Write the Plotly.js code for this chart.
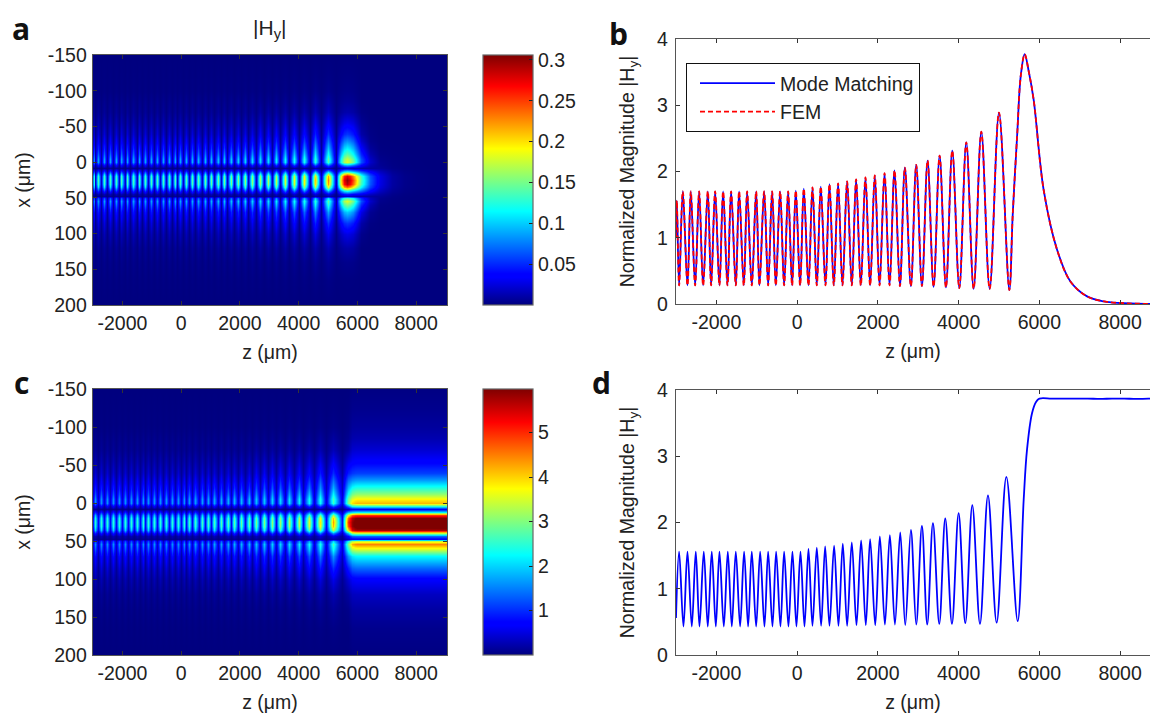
<!DOCTYPE html>
<html>
<head>
<meta charset="utf-8">
<script src="https://cdn.plot.ly/plotly-3.0.1.min.js"></script>
<style>html,body{margin:0;padding:0;background:#fff}#chart{width:1150px;height:713px}</style>
</head>
<body>
<div id="chart"></div>
<script>
// Panel b: |Hy| along the guide, read at peaks, troughs and the decay tail
const bZ = [-3000,-2980,-2923,-2832,-2716,-2634,-2526,-2427,-2328,-2213,-2130,-2031,-1924,-1833,-1725,-1635,-1519,-1437,-1321,-1238,-1123,-1015,-933,-817,-718,-619,-528,-421,-322,-223,-124,-33,74,165,281,380,487,586,702,801,908,1015,1123,1238,1354,1461,1577,1692,1808,1924,2041,2165,2289,2413,2546,2669,2818,2950,3091,3231,3380,3529,3686,3843,4017,4190,4372,4562,4769,5000,5256,5340,5450,5540,5636,5740,5859,6107,6438,6769,7182,7595,8000,8400,9100];
const bH = [1.0,1.56,0.28,1.70,0.28,1.70,0.28,1.70,0.28,1.70,0.28,1.70,0.28,1.70,0.28,1.70,0.28,1.70,0.28,1.70,0.28,1.70,0.28,1.70,0.28,1.70,0.28,1.70,0.28,1.70,0.28,1.71,0.28,1.74,0.28,1.76,0.28,1.77,0.28,1.81,0.28,1.82,0.28,1.85,0.28,1.88,0.28,1.91,0.28,1.94,0.28,1.975,0.28,2.015,0.27,2.06,0.27,2.10,0.27,2.165,0.26,2.24,0.25,2.315,0.24,2.44,0.23,2.60,0.23,2.89,0.21,1.35,2.55,3.45,3.77,3.50,3.08,1.72,0.82,0.34,0.115,0.04,0.015,0.005,0];

// Panel d: |Hy| with the flat plateau after the transition
const dZ = [-3000,-2923,-2815,-2716,-2609,-2510,-2419,-2312,-2213,-2114,-2014,-1924,-1816,-1717,-1618,-1519,-1412,-1313,-1214,-1123,-1015,-916,-809,-718,-611,-520,-413,-322,-215,-116,-17,83,182,281,380,487,594,694,801,916,1024,1131,1238,1354,1470,1585,1701,1808,1934,2049,2174,2297,2422,2554,2678,2818,2950,3091,3223,3364,3521,3669,3835,4000,4165,4339,4529,4727,4942,5182,5463,5611,5694,5818,5917,6000,6300,6600,6900,7200,7500,7800,8100,8400,8700,9100];
const dH = [0.56,1.56,0.43,1.56,0.43,1.56,0.43,1.56,0.43,1.56,0.43,1.56,0.43,1.56,0.43,1.56,0.43,1.56,0.43,1.56,0.43,1.56,0.43,1.56,0.43,1.56,0.43,1.56,0.43,1.56,0.43,1.56,0.43,1.60,0.44,1.62,0.44,1.64,0.44,1.65,0.44,1.68,0.44,1.70,0.45,1.73,0.45,1.75,0.45,1.79,0.46,1.81,0.46,1.85,0.45,1.89,0.46,1.95,0.46,1.99,0.47,2.06,0.47,2.14,0.48,2.26,0.47,2.41,0.49,2.69,0.51,2.34,3.10,3.65,3.82,3.87,3.87,3.87,3.87,3.87,3.865,3.87,3.87,3.865,3.87,3.87];

// Transverse profile samples (relative to the centre of the guide)
const xRows = [-150,-125,-100,-85,-70,-55,-40,-30,-20,-12,-5,0,4,8,12,16,20,25,30,35,40,44,47,50,54,60,70,85,100,120,140,165,200];
const profEarly = [0,0.005,0.01,0.03,0.05,0.1,0.17,0.25,0.37,0.5,0.64,0.64,0.3,0.05,0.38,0.74,0.94,1,0.96,0.78,0.38,0.12,0.05,0.47,0.64,0.52,0.32,0.19,0.11,0.05,0.025,0.01,0];
const profMid = [0,0.005,0.012,0.03,0.06,0.12,0.2,0.29,0.4,0.52,0.64,0.62,0.3,0.05,0.38,0.74,0.94,1,0.96,0.78,0.38,0.12,0.05,0.47,0.64,0.54,0.35,0.21,0.12,0.055,0.025,0.01,0];
const profNear = [0,0.006,0.015,0.04,0.07,0.14,0.23,0.32,0.42,0.52,0.62,0.6,0.3,0.06,0.38,0.74,0.94,1,0.96,0.78,0.38,0.13,0.06,0.47,0.62,0.54,0.38,0.23,0.13,0.06,0.03,0.01,0];
const profPeak = [0,0.004,0.01,0.02,0.04,0.1,0.18,0.27,0.37,0.47,0.58,0.6,0.3,0.07,0.35,0.72,0.93,1,0.96,0.78,0.38,0.15,0.07,0.46,0.6,0.5,0.33,0.18,0.09,0.035,0.012,0.002,0];
const profFallA = [0,0,0,0,0.01,0.04,0.08,0.15,0.25,0.35,0.45,0.45,0.28,0.1,0.42,0.75,0.95,1,0.97,0.82,0.48,0.22,0.1,0.36,0.45,0.35,0.2,0.08,0.025,0,0,0,0];
const profFallB = [0,0,0,0,0,0.01,0.03,0.05,0.11,0.19,0.28,0.3,0.22,0.14,0.5,0.8,0.96,1,0.97,0.85,0.55,0.28,0.14,0.24,0.3,0.2,0.08,0.02,0,0,0,0,0];
const profTail = [0,0,0,0,0,0,0,0.01,0.03,0.07,0.13,0.17,0.2,0.28,0.6,0.85,0.97,1,0.98,0.88,0.62,0.38,0.25,0.16,0.12,0.06,0.02,0,0,0,0,0,0];
const profGuided = [0.004,0.012,0.025,0.04,0.07,0.11,0.18,0.27,0.4,0.5,0.61,0.67,0.4,0.1,0.35,0.8,0.97,1,1,0.93,0.55,0.22,0.1,0.55,0.72,0.57,0.36,0.22,0.11,0.055,0.03,0.012,0.003];

// Which profile applies up to which z, per map
const stageEndsA = [2500,4400,5300,5900,6250,6600,99999];
const stagesA = [profEarly,profMid,profNear,profPeak,profFallA,profFallB,profTail];
const stageEndsC = [2500,4400,5500,5760,99999];
const stagesC = [profEarly,profMid,profNear,profPeak,profGuided];
const fieldScaleA = 0.08, fieldScaleC = 1.6;

const jet = [[0,'#00007f'],[0.11,'#0000ff'],[0.125,'#0000ff'],[0.375,'#00ffff'],[0.625,'#ffff00'],[0.875,'#ff0000'],[1,'#7f0000']];
const FONT = 'Liberation Sans, Arial, sans-serif';
const INK = '#222222', SPINE = '#555555', TS = 19.5;
const W = 1150, H = 713;

const zTicks = [-2000,0,2000,4000,6000,8000];
const zTickText = ['-2000','0','2000','4000','6000','8000'];
const xTicks = [-150,-100,-50,0,50,100,150,200];
const xTickText = ['-150','-100','-50','0','50','100','150','200'];
const magTicks = [0,1,2,3,4];
const magTickText = ['0','1','2','3','4'];
const cbATicks = [0.05,0.1,0.15,0.2,0.25,0.3];
const cbATickText = ['0.05','0.1','0.15','0.2','0.25','0.3'];
const cbCTicks = [1,2,3,4,5];
const cbCTickText = ['1','2','3','4','5'];

function grid(zs, vals, ends, stages, k){
  const cols = zs.map(z => { let i = 0; while (z > ends[i]) i++; return stages[i]; });
  return xRows.map((_, r) => vals.map((v, c) => v * k * cols[c][r]));
}
function domX(a,b){return [a/W,b/W];}
function domY(t,b){return [1-b/H,1-t/H];}
function axis(extra){
  return Object.assign({showline:true,linecolor:SPINE,linewidth:1.3,ticks:'inside',ticklen:4,tickcolor:'#333',tickwidth:1,
    showgrid:false,zeroline:false,tickfont:{family:FONT,size:TS,color:INK}},extra);
}
function title(text,standoff){return {text:text,standoff:standoff,font:{family:FONT,size:TS,color:INK}};}
function colorbar(top,len,vals,text){
  return {x:483/W,xanchor:'left',y:1-top/H,yanchor:'top',lenmode:'pixels',len:len,thicknessmode:'pixels',thickness:50,
    xpad:0,ypad:0,outlinecolor:'#666',outlinewidth:1.2,ticks:'inside',ticklen:4,tickcolor:'#222',
    tickvals:vals,ticktext:text,tickfont:{family:FONT,size:TS,color:INK}};
}

const traces = [
  {type:'heatmap',x:bZ,y:xRows,z:grid(bZ,bH,stageEndsA,stagesA,fieldScaleA),zsmooth:'best',colorscale:jet,zauto:false,zmin:0,zmax:0.306,
   xaxis:'x',yaxis:'y',showlegend:false,colorbar:colorbar(55,250,cbATicks,cbATickText)},
  {type:'heatmap',x:dZ,y:xRows,z:grid(dZ,dH,stageEndsC,stagesC,fieldScaleC),zsmooth:'best',colorscale:jet,zauto:false,zmin:0,zmax:5.98,
   xaxis:'x3',yaxis:'y3',showlegend:false,colorbar:colorbar(389,266,cbCTicks,cbCTickText)},
  {type:'scatter',mode:'lines',name:'Mode Matching',x:bZ,y:bH,xaxis:'x2',yaxis:'y2',line:{color:'#0000ff',width:1.8,shape:'spline'}},
  {type:'scatter',mode:'lines',name:'FEM',x:bZ,y:bH,xaxis:'x2',yaxis:'y2',line:{color:'#ff0000',width:1.8,dash:'5px,3px',shape:'spline'}},
  {type:'scatter',mode:'lines',name:'Mode Matching',x:dZ,y:dH,xaxis:'x4',yaxis:'y4',showlegend:false,line:{color:'#0000ff',width:1.8,shape:'spline'}}
];

const mapX = {range:[-3000,9050],tickvals:zTicks,ticktext:zTickText,mirror:'ticks',title:title('z (μm)',12)};
const mapY = {range:[200,-150],tickvals:xTicks,ticktext:xTickText,mirror:'ticks',ticklabelstandoff:1,title:title('x (μm)',12)};
const lineX = {range:[-3000,8740],tickvals:zTicks,ticktext:zTickText,mirror:'ticks',title:title('z (μm)',12)};
const lineY = {range:[0,4],tickvals:magTicks,ticktext:magTickText,ticklabelstandoff:3,title:title('Normalized Magnitude |H<sub>y</sub>|',17)};

const panelLabels = [['a',21,28],['b',618,33],['c',21,383],['d',601,383]];
const layout = {
  width:W,height:H,autosize:false,paper_bgcolor:'#fff',plot_bgcolor:'#fff',
  margin:{l:0,r:0,t:0,b:0},
  font:{family:FONT,color:INK},
  xaxis:axis(Object.assign({domain:domX(93,447),anchor:'y'},mapX)),
  yaxis:axis(Object.assign({domain:domY(55,305),anchor:'x'},mapY)),
  xaxis3:axis(Object.assign({domain:domX(93,447),anchor:'y3'},mapX)),
  yaxis3:axis(Object.assign({domain:domY(389,655),anchor:'x3'},mapY)),
  xaxis2:axis(Object.assign({domain:domX(676,1150),anchor:'y2'},lineX)),
  yaxis2:axis(Object.assign({domain:domY(39,304),anchor:'x2'},lineY)),
  xaxis4:axis(Object.assign({domain:domX(676,1150),anchor:'y4'},lineX)),
  yaxis4:axis(Object.assign({domain:domY(390,655),anchor:'x4'},lineY)),
  legend:{x:686/W,y:1-63/H,xanchor:'left',yanchor:'top',bgcolor:'#fff',bordercolor:'#111',borderwidth:1,indentation:8,
    font:{family:FONT,size:TS,color:INK},itemwidth:75,entrywidth:154,entrywidthmode:'pixels',traceorder:'normal'},
  annotations:[
    {xref:'paper',yref:'paper',x:269/W,y:1-29/H,xanchor:'center',yanchor:'middle',showarrow:false,text:'|H<sub>y</sub>|',font:{family:FONT,size:21,color:INK}}
  ].concat(panelLabels.map(p=>({xref:'paper',yref:'paper',x:p[1]/W,y:1-p[2]/H,xanchor:'center',yanchor:'middle',showarrow:false,text:'<b>'+p[0]+'</b>',font:{family:'Open Sans, sans-serif',size:30,color:'#111'}})))
};
Plotly.newPlot('chart',traces,layout,{displayModeBar:false,staticPlot:true});
</script>
</body>
</html>
